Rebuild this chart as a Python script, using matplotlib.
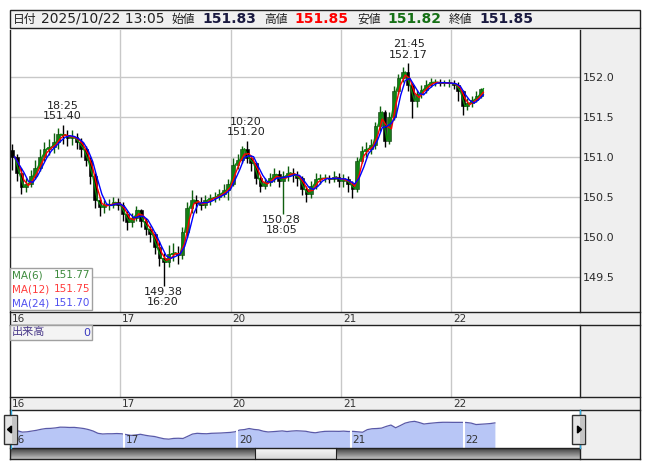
import numpy as np
import pandas as pd
import matplotlib
matplotlib.use("Agg")
import matplotlib.pyplot as plt
from matplotlib.patches import Rectangle, Polygon
from matplotlib.lines import Line2D

# ---------------- data (hourly bars, hours counted from 16th 07:00) ----------------
opens = [151.08, 151.00, 150.80, 150.62, 150.66, 150.76, 150.86, 151.00, 151.10, 151.12,
         151.18, 151.28, 151.27, 151.24, 151.25, 151.18, 151.10, 150.96, 150.76, 150.46,
         150.37, 150.40, 150.40, 150.43,
         150.40, 150.29, 150.18, 150.24, 150.33, 150.20, 150.10, 150.03, 149.87, 149.73,
         149.68, 149.78, 149.80, 149.77, 150.06, 150.36, 150.46, 150.42, 150.40, 150.46,
         150.48, 150.50, 150.54, 150.58,
         150.66, 150.90, 150.96, 151.10, 150.98, 150.92, 150.74, 150.64, 150.68, 150.73,
         150.78, 150.70, 150.76, 150.80, 150.77, 150.73, 150.60, 150.53, 150.64, 150.72,
         150.73, 150.73, 150.72, 150.75,
         150.70, 150.72, 150.66, 150.60, 150.95, 151.07, 151.10, 151.15, 151.38, 151.56,
         151.20, 151.50, 151.82, 151.98, 152.06, 151.90, 151.70, 151.78, 151.84, 151.90,
         151.93, 151.93, 151.92, 151.92,
         151.92, 151.90, 151.82, 151.63, 151.67, 151.71, 151.76]
closes = [151.00, 150.80, 150.62, 150.66, 150.76, 150.86, 151.00, 151.10, 151.12, 151.18,
          151.28, 151.27, 151.24, 151.25, 151.18, 151.10, 150.96, 150.76, 150.46, 150.37,
          150.40, 150.40, 150.43, 150.40,
          150.29, 150.18, 150.24, 150.33, 150.20, 150.10, 150.03, 149.87, 149.73, 149.68,
          149.78, 149.80, 149.77, 150.06, 150.36, 150.46, 150.42, 150.40, 150.46, 150.48,
          150.50, 150.54, 150.58, 150.66,
          150.90, 150.96, 151.10, 150.98, 150.92, 150.74, 150.64, 150.68, 150.73, 150.78,
          150.70, 150.76, 150.80, 150.77, 150.73, 150.60, 150.53, 150.64, 150.72, 150.73,
          150.73, 150.72, 150.75, 150.70,
          150.72, 150.66, 150.60, 150.95, 151.07, 151.10, 151.15, 151.38, 151.56, 151.20,
          151.50, 151.82, 151.98, 152.06, 151.90, 151.70, 151.78, 151.84, 151.90, 151.93,
          151.93, 151.92, 151.92, 151.92,
          151.90, 151.82, 151.63, 151.67, 151.71, 151.76, 151.85]
highs = [151.16, 151.04, 150.86, 150.74, 150.84, 150.96, 151.10, 151.18, 151.22, 151.30,
         151.36, 151.40, 151.34, 151.33, 151.30, 151.24, 151.14, 151.00, 150.80, 150.50,
         150.46, 150.47, 150.50, 150.48,
         150.44, 150.32, 150.30, 150.38, 150.35, 150.24, 150.14, 150.06, 149.95, 149.80,
         149.90, 149.92, 149.88, 150.12, 150.44, 150.58, 150.52, 150.50, 150.52, 150.54,
         150.56, 150.60, 150.66, 150.72,
         150.98, 151.04, 151.14, 151.20, 151.02, 150.94, 150.76, 150.74, 150.80, 150.86,
         150.84, 150.82, 150.88, 150.86, 150.82, 150.76, 150.64, 150.70, 150.80, 150.78,
         150.78, 150.77, 150.82, 150.80,
         150.78, 150.76, 150.70, 151.00, 151.14, 151.18, 151.22, 151.44, 151.64, 151.58,
         151.56, 151.88, 152.04, 152.12, 152.17, 151.92, 151.84, 151.90, 151.96, 151.98,
         151.97, 151.97, 151.96, 151.97,
         151.96, 151.93, 151.84, 151.74, 151.76, 151.82, 151.86]
lows = [150.84, 150.70, 150.54, 150.56, 150.62, 150.72, 150.82, 150.95, 151.02, 151.05,
        151.10, 151.16, 151.14, 151.15, 151.10, 151.00, 150.88, 150.66, 150.36, 150.26,
        150.30, 150.33, 150.36, 150.33,
        150.20, 150.08, 150.12, 150.20, 150.12, 150.02, 149.94, 149.78, 149.64, 149.38,
        149.62, 149.70, 149.66, 149.72, 150.00, 150.30, 150.30, 150.33, 150.36, 150.40,
        150.43, 150.46, 150.50, 150.46,
        150.64, 150.85, 150.92, 150.92, 150.82, 150.66, 150.56, 150.60, 150.64, 150.68,
        150.62, 150.28, 150.70, 150.68, 150.64, 150.52, 150.43, 150.48, 150.60, 150.66,
        150.68, 150.67, 150.68, 150.62,
        150.62, 150.56, 150.48, 150.56, 150.92, 151.00, 151.04, 151.10, 151.32, 151.12,
        151.16, 151.46, 151.78, 151.94, 151.82, 151.48, 151.62, 151.74, 151.80, 151.87,
        151.88, 151.88, 151.88, 151.87,
        151.85, 151.70, 151.52, 151.58, 151.62, 151.68, 151.74]

day_labels = ["16", "17", "20", "21", "22"]
day_starts = [0, 24, 48, 72, 96]
price_ticks = [149.5, 150.0, 150.5, 151.0, 151.5, 152.0]

ann_times = [11.42, 33.33, 51.33, 59.08, 86.75]
ann_values = [151.40, 149.38, 151.20, 150.28, 152.17]
ann_times_txt = ["18:25", "16:20", "10:20", "18:05", "21:45"]
ann_is_high = [True, False, True, False, True]

ma_names = ["MA(6)", "MA(12)", "MA(24)"]
ma_last = ["151.77", "151.75", "151.70"]
ma_windows = [1, 2, 3]
ma_colors = ["#0a8a0a", "#ff0000", "#0000ff"]
ma_text_colors = ["#3c8a3c", "#ff3c3c", "#5050f0"]

header_parts = [("日付", 13, "#222222", "cjk", False),
                ("2025/10/22 13:05", 41, "#222222", "lat", False),
                ("始値", 172, "#222222", "cjk", False),
                ("151.83", 202, "#1a1a40", "lat", True),
                ("高値", 264, "#222222", "cjk", False),
                ("151.85", 294, "#ff0000", "lat", True),
                ("安値", 357, "#222222", "cjk", False),
                ("151.82", 387, "#157015", "lat", True),
                ("終値", 449, "#222222", "cjk", False),
                ("151.85", 479, "#1a1a40", "lat", True)]

# ---------------- layout helpers ----------------
W, H = 653, 470
fig = plt.figure(figsize=(W / 100, H / 100), dpi=100)
fig.patch.set_facecolor("white")
CJK = ["Noto Sans CJK JP", "DejaVu Sans"]
GREY = "#efefef"
PXH = 4.596  # pixels per hour


def rect(x0, y0, x1, y1):
    return [x0 / W, 1 - y1 / H, (x1 - x0) / W, (y1 - y0) / H]


def fx(x):
    return x / W


def fy(y):
    return 1 - y / H


def frect(x0, y0, x1, y1, fc, ec="none", lw=0, z=0):
    r = Rectangle((fx(x0), fy(y1)), (x1 - x0) / W, (y1 - y0) / H, transform=fig.transFigure,
                  facecolor=fc, edgecolor=ec, linewidth=lw, zorder=z)
    fig.add_artist(r)
    return r


def fline(x0, y0, x1, y1, c="#222222", lw=1.0, z=10):
    fig.add_artist(Line2D([fx(x0), fx(x1)], [fy(y0), fy(y1)], transform=fig.transFigure,
                          color=c, lw=lw, zorder=z))


def bare(ax):
    for s in ax.spines.values():
        s.set_visible(False)
    ax.set_xticks([])
    ax.set_yticks([])


n = len(closes)
t = np.arange(n) + 0.5
o = np.array(opens); c = np.array(closes); hi = np.array(highs); lo = np.array(lows)

# ---------------- header ----------------
frect(10, 10, 640, 28, "#f0f0f0", "#222222", 1.0, z=1)
for txt, x, col, fam, bold in header_parts:
    if fam == "cjk":
        fig.text(fx(x), fy(19.5), txt, family=CJK, fontsize=8.5, color=col, va="center", ha="left")
    else:
        fig.text(fx(x), fy(19), txt, family="DejaVu Sans", fontsize=10 if bold else 10,
                 fontweight="bold" if bold else "normal", color=col, va="center", ha="left")

# ---------------- main price panel ----------------
frect(580, 30, 640, 312, GREY, z=0)
ax = fig.add_axes(rect(10, 30, 580, 312))
ax.set_xlim(0, 570 / PXH)
ax.set_ylim(149.059, 152.584)
for s in ax.spines.values():
    s.set_visible(False)
ax.set_xticks([])
ax.yaxis.tick_right()
ax.set_yticks(price_ticks)
ax.set_yticklabels([f"{v:.1f}" for v in price_ticks])
ax.tick_params(axis="y", length=0, pad=2, labelsize=8, labelcolor="#2a2a2a")
ax.grid(axis="y", color="#c8c8c8", lw=1)
for d in day_starts[1:]:
    ax.axvline(d, color="#c8c8c8", lw=1, zorder=0)

up = c >= o
ax.vlines(t[up], lo[up], hi[up], color="#0f5f0f", lw=1.0, zorder=2)
ax.vlines(t[~up], lo[~up], hi[~up], color="#000000", lw=1.0, zorder=2)
ax.bar(t[up], np.maximum(c[up] - o[up], 0.008), bottom=o[up], width=0.8,
       color="#1a7a1a", edgecolor="#0a3a0a", lw=0.4, zorder=3)
ax.bar(t[~up], np.maximum(o[~up] - c[~up], 0.008), bottom=c[~up], width=0.8,
       color="#000000", edgecolor="#000000", lw=0.4, zorder=3)

cs = pd.Series(closes)
for w, col in zip(ma_windows, ma_colors):
    ma = cs.rolling(w, min_periods=1).mean().values
    ax.plot(np.arange(n) + 1.0, ma, color=col, lw=1.0, zorder=4)

for tm, v, s, is_hi in zip(ann_times, ann_values, ann_times_txt, ann_is_high):
    if is_hi:
        ax.annotate(f"{s}\n{v:.2f}", (tm, v), xytext=(0, 2.5), textcoords="offset points",
                    ha="center", va="bottom", fontsize=8, color="#222222", linespacing=1.05,
                    zorder=6)
    else:
        ax.annotate(f"{v:.2f}\n{s}", (tm, v), xytext=(0, -0.5), textcoords="offset points",
                    ha="center", va="top", fontsize=8, color="#222222", linespacing=1.05,
                    zorder=6)

# MA legend box
frect(10, 268, 92, 310, "#ffffff", "#a0a0a0", 1.0, z=20)
for k, (nm, val, col) in enumerate(zip(ma_names, ma_last, ma_text_colors)):
    yy = 275.5 + k * 14
    fig.text(fx(12), fy(yy), nm, fontsize=7.5, color=col, va="center", ha="left", zorder=21)
    fig.text(fx(90), fy(yy), val, fontsize=7.5, color=col, va="center", ha="right", zorder=21)

# ---------------- date strips ----------------
def date_strip(y0, y1):
    a = fig.add_axes(rect(10, y0, 640, y1))
    a.set_facecolor(GREY)
    bare(a)
    a.set_xlim(0, 630 / PXH)
    a.set_ylim(0, 1)
    for d, lab in zip(day_starts, day_labels):
        a.text(d + 0.4, 0.45, lab, fontsize=7.5, color="#333333", va="center", ha="left")
    return a

date_strip(312, 325)
date_strip(397, 410)

# ---------------- volume panel ----------------
frect(580, 325, 640, 397, GREY, z=0)
axv = fig.add_axes(rect(10, 325, 580, 397))
bare(axv)
axv.set_xlim(0, 570 / PXH)
axv.set_ylim(0, 1)
for d in day_starts[1:]:
    axv.axvline(d, color="#c8c8c8", lw=1)
frect(10, 325, 92, 340, "#f4f4f4", "#a0a0a0", 1.0, z=20)
fig.text(fx(12), fy(332.5), "出来高", family=CJK, fontsize=8, color="#4a3a8a", va="center", ha="left", zorder=21)
fig.text(fx(90), fy(332.5), "0", fontsize=8, color="#3a3ac0", va="center", ha="right", zorder=21)

# ---------------- navigator ----------------
frect(580, 410, 640, 459, GREY, z=0)
axn = fig.add_axes(rect(10, 410, 580, 448))
bare(axn)
axn.set_xlim(-0.5 / 4.73, 570 / 4.73)
axn.set_ylim(148.5, 153.57)
tn = np.arange(n) + 0.5
axn.fill_between(tn, closes, 148.5, color="#b8c6f6", lw=0)
axn.plot(tn, closes, color="#5a5aa8", lw=0.9)
for d in day_starts[1:]:
    axn.axvline(d, color="white", lw=1.5)
for d, lab in zip(day_starts, day_labels):
    axn.text(d + 0.3, 0.22, lab, fontsize=7.5, color="#333333", va="center", ha="left",
             transform=axn.get_xaxis_transform())
fline(10.5, 410, 10.5, 448, c="#33aadd", lw=1, z=11)
fline(579.5, 410, 579.5, 448, c="#33aadd", lw=1, z=11)

# buttons
for bx0, bx1, left in [(4, 17, True), (572, 585, False)]:
    frect(bx0, 415, bx1, 444, "#e4e4e4", "#303030", 1.0, z=30)
    frect(bx0 + 8, 416, bx1 - 1, 443, "#c4c4c4", z=31)
    cx = (bx0 + bx1) / 2
    if left:
        pts = [(fx(cx - 3), fy(429.5)), (fx(cx + 1), fy(426)), (fx(cx + 1), fy(433))]
    else:
        pts = [(fx(cx + 3), fy(429.5)), (fx(cx - 1), fy(426)), (fx(cx - 1), fy(433))]
    fig.add_artist(Polygon(pts, closed=True, transform=fig.transFigure, color="black", zorder=32))

# scrollbar
grad = np.linspace(0.25, 0.75, 12).reshape(-1, 1)
axs = fig.add_axes(rect(10, 448, 580, 459))
bare(axs)
axs.set_xlim(10, 580)
axs.set_ylim(0, 1)
axs.imshow(np.repeat(grad, 2, axis=1), cmap="gray", vmin=0, vmax=1, aspect="auto",
           extent=(10, 255, 0, 1), interpolation="bilinear")
axs.imshow(np.repeat(grad, 2, axis=1), cmap="gray", vmin=0, vmax=1, aspect="auto",
           extent=(336, 580, 0, 1), interpolation="bilinear")
axs.imshow(np.repeat(np.linspace(0.97, 0.85, 12).reshape(-1, 1), 2, axis=1), cmap="gray",
           vmin=0, vmax=1, aspect="auto", extent=(255, 336, 0, 1), interpolation="bilinear")
axs.set_xlim(10, 580)
axs.set_ylim(0, 1)

# ---------------- frame lines ----------------
fline(10, 30, 10, 459)
fline(640, 28, 640, 459)
fline(10, 459, 640, 459)
fline(10, 312, 640, 312)
fline(10, 325, 640, 325)
fline(10, 397, 640, 397)
fline(10, 410, 640, 410)
fline(10, 448, 580, 448)
fline(580, 30, 580, 312)
fline(580, 325, 580, 397)
fline(580, 410, 580, 459)
fline(255, 448, 255, 459, c="#202020", lw=0.8)
fline(336, 448, 336, 459, c="#202020", lw=0.8)

fig.savefig("out.png", dpi=100)
